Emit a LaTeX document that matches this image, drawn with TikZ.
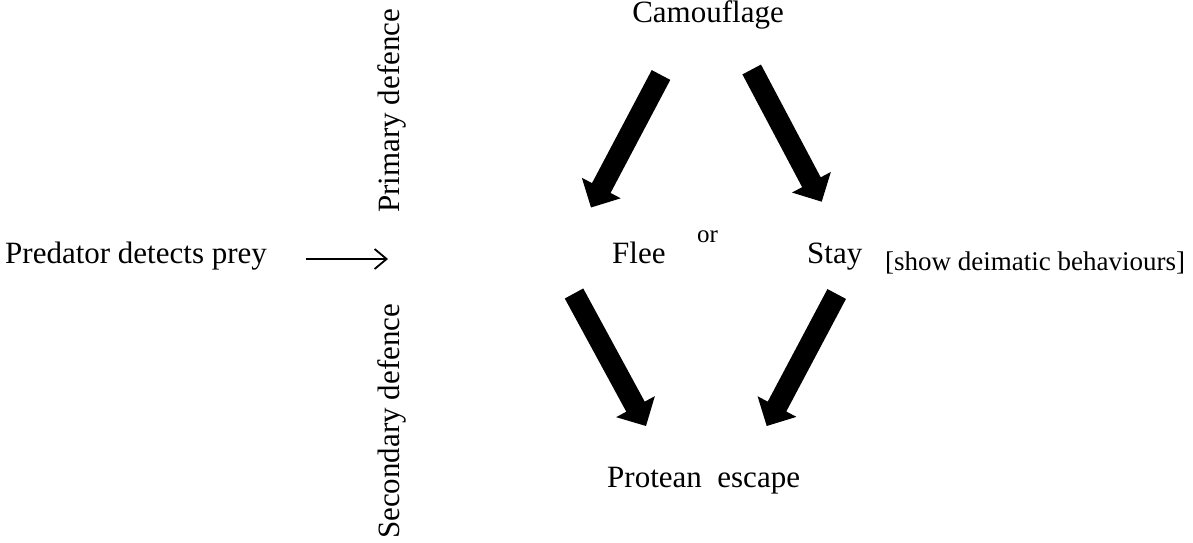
\documentclass[tikz,border=0pt]{standalone}
\usepackage{fontspec}
\setmainfont{Liberation Serif}
\usetikzlibrary{arrows.meta,calc}
\newcommand\blockarrow[2]{%
  \coordinate (hb) at ($(#2)!22pt!(#1)$);
  \fill ($(#1)!10.5pt!90:(#2)$) -- ($(hb)!10.5pt!90:(#2)$) -- ($(hb)!22pt!90:(#2)$)
    -- (#2) -- ($(hb)!22pt!-90:(#2)$) -- ($(hb)!10.5pt!-90:(#2)$)
    -- ($(#1)!10.5pt!-90:(#2)$) -- cycle;}
\begin{document}
\begin{tikzpicture}[x=1pt,y=1pt,
  lbl/.style={inner sep=0pt, font=\fontsize{31}{37}\selectfont},
  smalllbl/.style={inner sep=0pt, font=\fontsize{27}{32}\selectfont},
  orlbl/.style={inner sep=0pt, font=\fontsize{25}{30}\selectfont},
  thinarrow/.style={line width=1.8pt, -{Straight Barb[length=12pt,width=20pt]}}]
\useasboundingbox (0,0) rectangle (1193,543);

% texts
\node[lbl, anchor=base] (cam) at (708,520) {Camouflage};
\node[lbl, anchor=base west] (pred) at (5,279) {Predator detects prey};
\node[lbl, anchor=base west] (flee) at (612,279) {Flee};
\node[orlbl, anchor=base west] (or) at (697,300) {or};
\node[lbl, anchor=base west] (stay) at (807,279) {Stay};
\node[smalllbl, anchor=base west] (deim) at (885,272) {[show deimatic behaviours]};
\node[lbl, anchor=base west] (prot) at (607,55) {Protean\hspace{0.5em}escape};
\node[lbl, anchor=base west, rotate=90] (prim) at (399,330) {Primary defence};
\node[lbl, anchor=base west, rotate=90] (sec) at (399,4) {Secondary defence};

% thin arrow
\coordinate (a1) at (306,284);
\coordinate (a2) at (388,284);
\draw[thinarrow] (a1) -- (a2);

% block arrows
\coordinate (tl1) at (661,468);
\coordinate (tl2) at (591,335.5);
\coordinate (tr1) at (751.7,473.5);
\coordinate (tr2) at (821.7,341.3);
\coordinate (bl1) at (574,249.5);
\coordinate (bl2) at (646,117);
\coordinate (br1) at (836.7,249);
\coordinate (br2) at (766.7,117);
\blockarrow{tl1}{tl2}
\blockarrow{tr1}{tr2}
\blockarrow{bl1}{bl2}
\blockarrow{br1}{br2}
\end{tikzpicture}
\end{document}
